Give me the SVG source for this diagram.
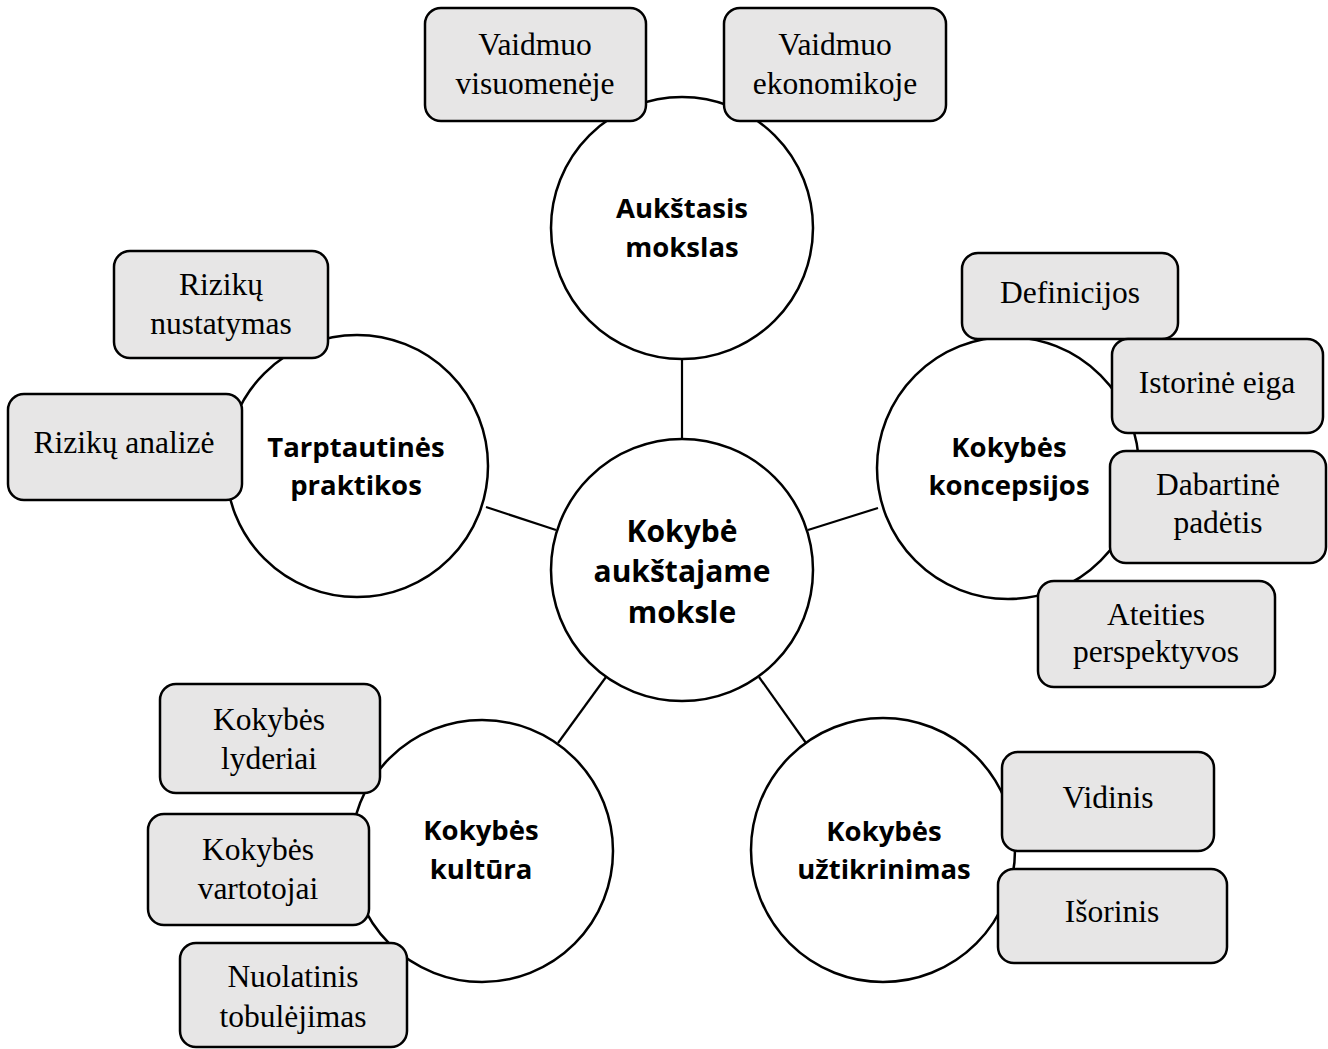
<svg xmlns="http://www.w3.org/2000/svg" width="1328" height="1049" viewBox="0 0 1328 1049">
<style>
.circ{fill:#ffffff;stroke:#000;stroke-width:2.5}
.box{fill:#e7e6e6;stroke:#000;stroke-width:2.5}
.conn line{stroke:#000;stroke-width:2.2}
.ct{font-family:"Open Sans","Noto Sans","Liberation Sans",sans-serif;font-weight:bold;font-size:27.5px;text-anchor:middle;fill:#000}
.cc{font-size:30px}
.bt{font-family:"Liberation Serif","Times New Roman",serif;font-size:31.5px;text-anchor:middle;fill:#000}
</style>
<rect width="1328" height="1049" fill="#ffffff"/>
<g id="connectors" class="conn">
<line x1="682" y1="359" x2="682" y2="439"/>
<line x1="486" y1="507" x2="556" y2="530"/>
<line x1="808" y1="530" x2="878" y2="508"/>
<line x1="606" y1="677" x2="558" y2="743"/>
<line x1="759" y1="677" x2="806" y2="743"/>
</g>
<g id="n-center"><circle class="circ" cx="682" cy="570" r="131"/>
<text class="ct cc" x="682" y="542">Kokybė</text><text class="ct cc" x="682" y="582">aukštajame</text><text class="ct cc" x="682" y="623">moksle</text></g>
<g id="n-top"><circle class="circ" cx="682" cy="228" r="131"/>
<text class="ct" x="682" y="218">Aukštasis</text><text class="ct" x="682" y="257">mokslas</text></g>
<g id="n-left"><circle class="circ" cx="357" cy="466" r="131"/>
<text class="ct" x="356" y="457">Tarptautinės</text><text class="ct" x="356" y="495">praktikos</text></g>
<g id="n-right"><circle class="circ" cx="1008" cy="468" r="131"/>
<text class="ct" x="1009" y="457">Kokybės</text><text class="ct" x="1009" y="495">koncepsijos</text></g>
<g id="n-bl"><circle class="circ" cx="482" cy="851" r="131"/>
<text class="ct" x="481" y="840">Kokybės</text><text class="ct" x="481" y="879">kultūra</text></g>
<g id="n-br"><circle class="circ" cx="883" cy="850" r="132"/>
<text class="ct" x="884" y="841">Kokybės</text><text class="ct" x="884" y="879">užtikrinimas</text></g>

<g id="b-visuomeneje"><rect class="box" x="425" y="8" width="221" height="113" rx="16"/>
<text class="bt" x="535" y="55">Vaidmuo</text><text class="bt" x="535" y="94">visuomenėje</text></g>
<g id="b-ekonomikoje"><rect class="box" x="724" y="8" width="222" height="113" rx="16"/>
<text class="bt" x="835" y="55">Vaidmuo</text><text class="bt" x="835" y="94">ekonomikoje</text></g>
<g id="b-nustatymas"><rect class="box" x="114" y="251" width="214" height="107" rx="16"/>
<text class="bt" x="221" y="295">Rizikų</text><text class="bt" x="221" y="334">nustatymas</text></g>
<g id="b-analize"><rect class="box" x="8" y="394" width="234" height="106" rx="16"/>
<text class="bt" x="124" y="453">Rizikų analizė</text></g>
<g id="b-definicijos"><rect class="box" x="962" y="253" width="216" height="86" rx="16"/>
<text class="bt" x="1070" y="303">Definicijos</text></g>
<g id="b-istorine"><rect class="box" x="1112" y="339" width="211" height="94" rx="16"/>
<text class="bt" x="1217" y="393">Istorinė eiga</text></g>
<g id="b-dabartine"><rect class="box" x="1110" y="451" width="216" height="112" rx="16"/>
<text class="bt" x="1218" y="495">Dabartinė</text><text class="bt" x="1218" y="533">padėtis</text></g>
<g id="b-ateities"><rect class="box" x="1038" y="581" width="237" height="106" rx="16"/>
<text class="bt" x="1156" y="625">Ateities</text><text class="bt" x="1156" y="662">perspektyvos</text></g>
<g id="b-lyderiai"><rect class="box" x="160" y="684" width="220" height="109" rx="16"/>
<text class="bt" x="269" y="730">Kokybės</text><text class="bt" x="269" y="769">lyderiai</text></g>
<g id="b-vartotojai"><rect class="box" x="148" y="814" width="221" height="111" rx="16"/>
<text class="bt" x="258" y="860">Kokybės</text><text class="bt" x="258" y="899">vartotojai</text></g>
<g id="b-nuolatinis"><rect class="box" x="180" y="943" width="227" height="104" rx="16"/>
<text class="bt" x="293" y="987">Nuolatinis</text><text class="bt" x="293" y="1027">tobulėjimas</text></g>
<g id="b-vidinis"><rect class="box" x="1002" y="752" width="212" height="99" rx="16"/>
<text class="bt" x="1108" y="808">Vidinis</text></g>
<g id="b-isorinis"><rect class="box" x="998" y="869" width="229" height="94" rx="16"/>
<text class="bt" x="1112" y="922">Išorinis</text></g>
</svg>
